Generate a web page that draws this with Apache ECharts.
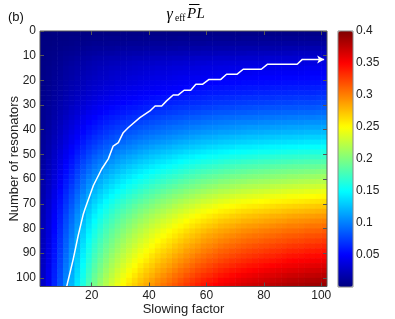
<!DOCTYPE html>
<html><head><meta charset="utf-8">
<script src="https://cdn.jsdelivr.net/npm/echarts@6/dist/echarts.min.js"></script>
<style>html,body{margin:0;padding:0;background:#fff}#c{width:395px;height:319px}</style>
</head><body><div id="c"></div>
<script>
const slowingFactor = [3,5,7,9,11,13,15,17,19,21,23,25,27,29,31,33,35,37,39,41,43,45,47,49,51,53,55,57,59,61,63,65,67,69,71,73,75,77,79,81,83,85,87,89,91,93,95,97,99,101];
const resonators = [1,3,5,7,9,11,13,15,17,19,21,23,25,27,29,31,33,35,37,39,41,43,45,47,49,51,53,55,57,59,61,63,65,67,69,71,73,75,77,79,81,83,85,87,89,91,93,95,97,99,101,103];
// gamma_eff * Pbar * L ; one row per number of resonators, one column per slowing factor
const gammaPL = [
[0,0,.001,.001,.001,.001,.001,.002,.002,.002,.002,.002,.002,.002,.003,.003,.003,.003,.003,.003,.003,.003,.003,.003,.003,.003,.003,.003,.004,.004,.004,.004,.004,.004,.004,.004,.004,.004,.004,.004,.004,.004,.004,.004,.004,.004,.004,.004,.004,.004],
[.001,.001,.001,.002,.002,.003,.003,.003,.004,.004,.004,.005,.005,.005,.005,.005,.005,.006,.006,.006,.006,.006,.006,.006,.007,.007,.007,.007,.007,.007,.007,.007,.007,.007,.007,.008,.008,.008,.008,.008,.008,.008,.008,.008,.008,.008,.008,.008,.008,.008],
[.001,.001,.002,.003,.003,.004,.005,.005,.006,.007,.007,.007,.008,.008,.008,.009,.009,.009,.009,.010,.010,.010,.010,.011,.011,.011,.011,.011,.011,.012,.012,.012,.012,.012,.012,.012,.012,.012,.012,.012,.013,.013,.013,.013,.013,.013,.013,.013,.013,.013],
[.001,.002,.003,.004,.005,.006,.007,.008,.009,.010,.010,.011,.011,.012,.012,.013,.013,.013,.014,.014,.014,.015,.015,.015,.016,.016,.016,.016,.017,.017,.017,.017,.017,.018,.018,.018,.018,.018,.018,.018,.018,.018,.019,.019,.019,.019,.019,.019,.019,.019],
[.002,.003,.004,.006,.007,.008,.009,.011,.012,.013,.014,.015,.015,.016,.017,.017,.018,.018,.019,.019,.020,.020,.021,.021,.021,.022,.022,.022,.023,.023,.023,.024,.024,.024,.024,.024,.025,.025,.025,.025,.025,.025,.025,.025,.026,.026,.026,.026,.026,.026],
[.002,.004,.005,.007,.009,.010,.012,.014,.015,.017,.018,.019,.020,.020,.021,.022,.023,.023,.024,.025,.025,.026,.026,.027,.027,.028,.028,.029,.029,.029,.030,.030,.030,.030,.031,.031,.031,.031,.031,.032,.032,.032,.032,.032,.032,.033,.033,.033,.033,.033],
[.003,.004,.006,.008,.010,.012,.014,.016,.018,.020,.021,.022,.023,.024,.025,.026,.027,.028,.028,.029,.030,.030,.031,.032,.032,.033,.033,.034,.034,.035,.035,.035,.036,.036,.036,.037,.037,.037,.037,.037,.038,.038,.038,.038,.038,.038,.039,.039,.039,.039],
[.003,.005,.007,.009,.012,.014,.016,.018,.020,.022,.024,.025,.026,.027,.028,.029,.030,.031,.032,.033,.034,.034,.035,.036,.036,.037,.037,.038,.039,.039,.039,.040,.040,.041,.041,.041,.042,.042,.042,.042,.042,.043,.043,.043,.043,.043,.044,.044,.044,.044],
[.003,.005,.008,.010,.013,.015,.017,.020,.022,.024,.026,.027,.029,.030,.031,.032,.033,.034,.035,.036,.037,.037,.038,.039,.040,.040,.041,.041,.042,.043,.043,.044,.044,.044,.045,.045,.045,.046,.046,.046,.046,.047,.047,.047,.047,.047,.048,.048,.048,.048],
[.004,.006,.009,.011,.014,.016,.019,.022,.024,.026,.028,.029,.031,.032,.033,.035,.036,.037,.038,.039,.040,.040,.041,.042,.043,.044,.044,.045,.046,.046,.047,.047,.048,.048,.048,.049,.049,.049,.050,.050,.050,.050,.051,.051,.051,.051,.051,.052,.052,.052],
[.004,.006,.009,.012,.015,.018,.020,.023,.026,.028,.030,.032,.033,.035,.036,.037,.038,.040,.041,.042,.043,.044,.044,.045,.046,.047,.048,.048,.049,.050,.050,.051,.051,.052,.052,.053,.053,.053,.053,.054,.054,.054,.055,.055,.055,.055,.055,.056,.056,.056],
[.004,.007,.010,.013,.016,.019,.022,.025,.028,.031,.033,.035,.036,.038,.039,.041,.042,.043,.044,.045,.046,.047,.048,.049,.050,.051,.052,.053,.053,.054,.055,.055,.056,.056,.057,.057,.058,.058,.058,.058,.059,.059,.059,.060,.060,.060,.060,.061,.061,.061],
[.005,.007,.011,.014,.017,.021,.024,.027,.030,.033,.035,.037,.039,.041,.043,.044,.045,.047,.048,.049,.050,.051,.052,.053,.054,.055,.056,.057,.058,.059,.059,.060,.060,.061,.061,.062,.062,.063,.063,.063,.064,.064,.064,.065,.065,.065,.065,.065,.066,.066],
[.005,.008,.012,.015,.019,.023,.026,.030,.033,.036,.039,.041,.043,.045,.046,.048,.049,.051,.052,.054,.055,.056,.057,.058,.059,.060,.061,.062,.063,.064,.065,.065,.066,.066,.067,.068,.068,.068,.069,.069,.069,.070,.070,.070,.071,.071,.071,.071,.072,.072],
[.006,.009,.013,.017,.021,.024,.028,.032,.036,.039,.042,.044,.046,.048,.050,.052,.054,.055,.057,.058,.059,.061,.062,.063,.064,.065,.066,.067,.068,.069,.070,.071,.071,.072,.073,.073,.074,.074,.074,.075,.075,.076,.076,.076,.077,.077,.077,.077,.078,.078],
[.006,.010,.014,.018,.022,.027,.031,.035,.039,.043,.046,.048,.051,.053,.055,.057,.058,.060,.062,.063,.065,.066,.067,.069,.070,.071,.072,.073,.075,.075,.076,.077,.078,.078,.079,.080,.080,.081,.081,.082,.082,.082,.083,.083,.083,.084,.084,.084,.085,.085],
[.007,.010,.015,.020,.024,.029,.033,.038,.043,.046,.049,.052,.055,.057,.059,.061,.063,.065,.067,.068,.070,.071,.073,.074,.076,.077,.078,.079,.081,.082,.083,.084,.084,.085,.086,.086,.087,.087,.088,.088,.089,.089,.090,.090,.090,.091,.091,.091,.092,.092],
[.007,.011,.016,.021,.026,.031,.036,.042,.046,.050,.054,.057,.060,.062,.064,.067,.069,.071,.073,.074,.076,.078,.079,.081,.082,.084,.085,.086,.088,.089,.090,.091,.092,.092,.093,.094,.094,.095,.095,.096,.096,.097,.097,.098,.098,.099,.099,.099,.100,.100],
[.008,.012,.018,.023,.029,.034,.039,.045,.050,.054,.058,.061,.064,.067,.070,.072,.074,.076,.078,.080,.082,.084,.086,.087,.089,.091,.092,.093,.095,.096,.097,.098,.099,.100,.101,.101,.102,.102,.103,.104,.104,.105,.105,.106,.106,.106,.107,.107,.107,.108],
[.008,.013,.019,.025,.031,.036,.042,.048,.054,.058,.062,.066,.069,.072,.075,.077,.080,.082,.084,.086,.088,.090,.092,.094,.095,.097,.099,.100,.102,.103,.104,.105,.106,.107,.108,.109,.110,.110,.111,.111,.112,.112,.113,.114,.114,.114,.115,.115,.115,.116],
[.009,.014,.020,.026,.033,.039,.045,.051,.057,.062,.066,.070,.074,.077,.080,.083,.085,.088,.090,.092,.094,.096,.098,.100,.102,.104,.106,.107,.109,.110,.111,.113,.113,.114,.115,.116,.117,.118,.118,.119,.120,.120,.121,.121,.122,.122,.123,.123,.123,.124],
[.010,.015,.022,.028,.035,.042,.048,.055,.061,.067,.071,.075,.079,.083,.086,.089,.091,.094,.097,.099,.101,.103,.105,.107,.109,.111,.113,.115,.117,.118,.119,.121,.122,.123,.124,.125,.126,.126,.127,.128,.128,.129,.130,.130,.131,.131,.132,.132,.132,.133],
[.010,.016,.023,.030,.037,.044,.052,.059,.066,.071,.076,.081,.084,.088,.091,.095,.098,.101,.103,.106,.108,.110,.112,.115,.117,.119,.121,.123,.125,.126,.127,.129,.130,.131,.132,.133,.134,.135,.135,.136,.137,.138,.138,.139,.139,.140,.141,.141,.141,.142],
[.011,.017,.025,.032,.040,.048,.055,.063,.070,.076,.081,.086,.090,.094,.098,.101,.104,.108,.110,.113,.116,.118,.120,.123,.125,.127,.129,.131,.133,.135,.136,.138,.139,.140,.142,.143,.143,.144,.145,.146,.147,.147,.148,.149,.149,.150,.150,.151,.151,.152],
[.012,.018,.027,.035,.043,.051,.059,.067,.075,.081,.087,.092,.096,.101,.104,.108,.111,.115,.118,.121,.123,.126,.128,.131,.133,.136,.138,.140,.142,.144,.145,.147,.148,.150,.151,.152,.153,.154,.155,.155,.156,.157,.158,.159,.159,.160,.160,.161,.161,.162],
[.012,.019,.028,.037,.045,.054,.063,.071,.079,.087,.092,.098,.102,.107,.111,.115,.118,.122,.125,.128,.131,.134,.136,.139,.142,.144,.146,.149,.151,.153,.154,.156,.157,.159,.160,.161,.162,.163,.164,.165,.166,.167,.168,.168,.169,.169,.170,.171,.171,.172],
[.013,.021,.030,.039,.048,.057,.066,.076,.084,.092,.098,.103,.108,.113,.117,.121,.125,.129,.132,.135,.139,.141,.144,.147,.150,.153,.155,.157,.160,.161,.163,.165,.167,.168,.169,.171,.172,.173,.174,.175,.175,.176,.177,.178,.179,.179,.180,.181,.181,.182],
[.014,.022,.031,.041,.051,.060,.070,.080,.089,.097,.103,.109,.114,.119,.124,.128,.132,.136,.139,.143,.146,.149,.152,.155,.158,.161,.163,.166,.168,.170,.172,.174,.176,.177,.179,.180,.181,.182,.183,.184,.185,.186,.187,.188,.189,.189,.190,.190,.191,.192],
[.015,.023,.033,.043,.053,.063,.074,.084,.093,.102,.108,.115,.120,.125,.130,.135,.139,.143,.147,.150,.154,.157,.160,.163,.166,.169,.172,.175,.177,.179,.181,.183,.185,.186,.188,.189,.191,.192,.193,.194,.195,.196,.197,.198,.198,.199,.200,.200,.201,.202],
[.015,.024,.035,.045,.056,.066,.077,.088,.098,.107,.114,.120,.126,.132,.137,.141,.146,.150,.154,.158,.162,.165,.168,.171,.174,.178,.180,.183,.186,.188,.190,.192,.194,.196,.197,.199,.200,.201,.202,.203,.204,.205,.206,.208,.208,.209,.210,.210,.211,.212],
[.016,.025,.036,.047,.059,.069,.081,.092,.103,.112,.119,.126,.132,.138,.143,.148,.153,.157,.161,.165,.169,.172,.176,.179,.183,.186,.189,.192,.195,.197,.199,.202,.203,.205,.207,.208,.210,.211,.212,.213,.214,.215,.216,.217,.218,.219,.220,.220,.221,.222],
[.017,.026,.038,.049,.061,.073,.084,.096,.107,.117,.124,.132,.138,.144,.149,.155,.159,.164,.168,.173,.177,.180,.184,.187,.191,.194,.197,.200,.203,.206,.208,.211,.212,.214,.216,.218,.219,.220,.221,.222,.224,.225,.226,.227,.228,.229,.230,.230,.231,.232],
[.017,.027,.040,.052,.064,.076,.088,.100,.112,.122,.130,.137,.144,.150,.156,.161,.166,.171,.176,.180,.184,.188,.192,.196,.199,.203,.206,.209,.212,.215,.217,.220,.221,.223,.225,.227,.228,.230,.231,.232,.233,.234,.236,.237,.238,.238,.240,.240,.241,.242],
[.018,.028,.041,.054,.067,.079,.092,.105,.116,.127,.135,.143,.150,.156,.162,.168,.173,.178,.183,.187,.192,.196,.200,.204,.207,.211,.214,.218,.221,.224,.226,.229,.231,.233,.235,.236,.238,.239,.240,.242,.243,.244,.245,.247,.247,.248,.249,.250,.251,.252],
[.019,.030,.043,.056,.069,.082,.095,.109,.121,.132,.140,.149,.156,.163,.169,.175,.180,.185,.190,.195,.200,.204,.208,.212,.216,.220,.223,.226,.230,.232,.235,.238,.240,.242,.244,.246,.247,.249,.250,.251,.253,.254,.255,.256,.257,.258,.259,.260,.261,.262],
[.020,.031,.045,.058,.072,.085,.099,.113,.126,.137,.146,.154,.162,.169,.175,.181,.187,.193,.197,.202,.207,.211,.215,.220,.224,.228,.231,.235,.239,.241,.244,.247,.249,.251,.253,.255,.257,.258,.259,.261,.262,.264,.265,.266,.267,.268,.269,.270,.271,.272],
[.020,.032,.046,.060,.074,.088,.102,.117,.130,.141,.151,.159,.167,.175,.181,.187,.193,.199,.204,.209,.214,.218,.223,.227,.231,.235,.239,.243,.246,.249,.252,.255,.257,.259,.262,.264,.265,.267,.268,.269,.271,.272,.274,.275,.276,.277,.278,.279,.280,.281],
[.021,.033,.048,.062,.077,.091,.106,.120,.134,.146,.155,.164,.173,.180,.187,.193,.199,.205,.211,.216,.221,.225,.230,.234,.239,.243,.247,.251,.254,.257,.260,.263,.265,.268,.270,.272,.274,.275,.277,.278,.280,.281,.282,.284,.285,.286,.287,.288,.289,.290],
[.021,.034,.049,.063,.079,.093,.108,.124,.138,.150,.160,.169,.177,.185,.192,.199,.205,.211,.216,.222,.227,.232,.236,.241,.245,.250,.254,.257,.261,.264,.267,.271,.273,.275,.277,.280,.281,.283,.284,.286,.287,.289,.290,.292,.293,.294,.295,.296,.297,.298],
[.022,.035,.050,.065,.081,.096,.111,.127,.141,.154,.164,.174,.182,.190,.197,.204,.210,.217,.222,.228,.233,.238,.242,.247,.252,.256,.260,.264,.268,.271,.274,.278,.280,.282,.285,.287,.289,.290,.292,.293,.295,.297,.298,.300,.300,.301,.303,.304,.304,.306],
[.023,.035,.051,.067,.083,.098,.114,.130,.145,.158,.168,.178,.187,.195,.202,.209,.216,.222,.228,.234,.239,.244,.249,.254,.258,.263,.267,.271,.275,.279,.282,.285,.287,.290,.292,.295,.296,.298,.300,.301,.303,.304,.306,.307,.308,.309,.311,.311,.312,.314],
[.023,.036,.053,.068,.085,.100,.117,.133,.148,.161,.172,.182,.191,.199,.207,.214,.221,.227,.233,.239,.245,.249,.254,.259,.264,.269,.273,.277,.282,.285,.288,.291,.294,.296,.299,.301,.303,.305,.306,.308,.309,.311,.313,.314,.315,.316,.318,.318,.319,.321],
[.024,.037,.054,.070,.087,.103,.119,.136,.152,.165,.176,.186,.195,.204,.211,.219,.225,.232,.238,.244,.250,.255,.260,.265,.270,.275,.279,.283,.288,.291,.294,.298,.300,.303,.305,.308,.310,.311,.313,.315,.316,.318,.319,.321,.322,.323,.325,.325,.326,.328],
[.024,.038,.055,.071,.088,.105,.122,.139,.155,.169,.180,.190,.199,.208,.216,.223,.230,.237,.243,.249,.255,.260,.265,.271,.276,.281,.285,.289,.294,.297,.300,.304,.307,.309,.312,.314,.316,.318,.320,.321,.323,.325,.326,.328,.329,.330,.332,.332,.333,.335],
[.025,.039,.056,.073,.090,.107,.124,.142,.158,.172,.183,.194,.203,.212,.220,.228,.235,.242,.248,.254,.261,.266,.271,.276,.281,.287,.291,.295,.300,.303,.307,.311,.313,.316,.318,.321,.323,.325,.326,.328,.330,.331,.333,.335,.336,.337,.339,.339,.340,.342],
[.025,.039,.057,.074,.092,.109,.127,.145,.161,.176,.187,.198,.208,.217,.225,.233,.240,.247,.253,.260,.266,.271,.276,.282,.287,.292,.297,.302,.306,.310,.313,.317,.319,.322,.325,.327,.329,.331,.333,.335,.336,.338,.340,.342,.343,.344,.346,.346,.347,.349],
[.026,.040,.058,.076,.094,.111,.130,.148,.164,.179,.191,.202,.212,.221,.229,.237,.245,.252,.258,.265,.271,.277,.282,.288,.293,.298,.303,.308,.312,.316,.319,.323,.326,.329,.331,.334,.336,.338,.340,.341,.343,.345,.347,.349,.350,.351,.352,.353,.354,.356],
[.026,.041,.060,.077,.096,.114,.132,.151,.168,.183,.195,.206,.216,.225,.234,.242,.249,.257,.264,.270,.277,.282,.287,.293,.299,.304,.309,.314,.318,.322,.326,.330,.332,.335,.338,.340,.343,.344,.346,.348,.350,.352,.354,.355,.356,.358,.359,.360,.361,.363],
[.027,.042,.061,.079,.098,.116,.135,.154,.171,.186,.198,.210,.220,.230,.238,.247,.254,.262,.269,.275,.282,.287,.293,.299,.305,.310,.315,.320,.324,.328,.332,.336,.339,.342,.344,.347,.349,.351,.353,.355,.357,.359,.360,.362,.363,.364,.366,.367,.368,.370],
[.027,.043,.062,.080,.100,.118,.137,.156,.174,.190,.202,.214,.224,.234,.243,.251,.259,.267,.274,.280,.287,.293,.299,.305,.310,.316,.321,.326,.331,.334,.338,.342,.345,.348,.351,.354,.356,.358,.360,.362,.363,.365,.367,.369,.370,.371,.373,.374,.375,.377],
[.028,.043,.063,.082,.101,.120,.140,.159,.177,.193,.206,.218,.228,.238,.247,.256,.264,.272,.279,.286,.293,.298,.304,.310,.316,.322,.327,.332,.337,.341,.344,.349,.351,.354,.358,.360,.362,.364,.366,.368,.370,.372,.374,.376,.377,.378,.380,.381,.382,.384],
[.028,.044,.064,.083,.103,.122,.142,.162,.180,.196,.209,.221,.232,.242,.251,.260,.268,.276,.283,.290,.297,.303,.309,.315,.321,.327,.332,.337,.342,.346,.350,.354,.357,.360,.363,.366,.368,.370,.372,.374,.376,.378,.380,.382,.383,.384,.386,.387,.388,.390]
];
// white curve (slowing factor, number of resonators)
const curveS = [11.3,13.6,15.3,17.1,17.7,20.6,23.5,25.8,27.5,29.3,31.0,32.8,36.8,40.3,42.1,44.4,46.1,48.4,50.2,52.2,54.5,56.3,58.6,60.9,65.0,67.0,70.7,72.8,79.1,81.2,91.6,93.4,101];
const curveN = [103.5,92.3,82.9,74.1,72.0,62.6,55.9,51.8,46.6,45.2,41.2,39.1,35.1,32.4,30.4,30.4,28.3,25.9,25.9,24.0,24.0,21.6,21.6,19.6,19.6,17.5,17.5,15.5,15.5,13.5,13.5,11.5,11.5];
const xTicks = [20,40,60,80,100];
const yTicks = [0,10,20,30,40,50,60,70,80,90,100];
const cbTicks = [0.05,0.1,0.15,0.2,0.25,0.3,0.35,0.4];
const cbLabels = ['0.05','0.1','0.15','0.2','0.25','0.3','0.35','0.4'];

const jet = ['#00007F','#0000FF','#007FFF','#00FFFF','#7FFF7F','#FFFF00','#FF7F00','#FF0000','#7F0000'];
const cells = [];
resonators.forEach((n, i) => slowingFactor.forEach((s, j) => cells.push([s, n, gammaPL[i][j]])));
const halfS = (slowingFactor[1] - slowingFactor[0]) / 2;
const halfN = (resonators[1] - resonators[0]) / 2;
const curve = curveS.map((s, i) => i === curveS.length - 1
  ? {value: [s, curveN[i]], symbol: 'arrow', symbolSize: [6, 7], symbolRotate: -90, itemStyle: {color: '#fff'}}
  : [s, curveN[i]]);

const FONT = '"Liberation Sans", Arial, sans-serif';
const frame = '#555';
function renderCell(params, api) {
  const s = api.value(0), n = api.value(1);
  const p0 = api.coord([s - halfS, n - halfN]);
  const p1 = api.coord([s + halfS, n + halfN]);
  const cs = params.coordSys;
  const r = echarts.graphic.clipRectByRect(
    {x: Math.min(p0[0], p1[0]), y: Math.min(p0[1], p1[1]), width: Math.abs(p1[0] - p0[0]) + 0.6, height: Math.abs(p1[1] - p0[1]) + 0.6},
    {x: cs.x, y: cs.y, width: cs.width, height: cs.height});
  return r && {type: 'rect', shape: r, style: {fill: api.visual('color')}};
}
const chart = echarts.init(document.getElementById('c'), null, {renderer: 'canvas'});
const tickStyle = {color: frame, width: 1};
chart.setOption({
  animation: false,
  backgroundColor: '#fff',
  grid: [
    {left: 40, top: 31, width: 287, height: 255.5, show: true, z: 10, borderColor: frame, borderWidth: 1, backgroundColor: 'transparent', containLabel: false, outerBoundsMode: 'none'},
    {left: 338, top: 31, width: 15, height: 256, show: true, z: 10, borderColor: '#888', borderWidth: 1, backgroundColor: 'transparent', containLabel: false, outerBoundsMode: 'none'}
  ],
  xAxis: [
    {type: 'value', gridIndex: 0, min: 2, max: 102, position: 'bottom', z: 10,
     axisLine: {show: false, onZero: false}, splitLine: {show: false},
     axisTick: {show: true, inside: true, length: 4, customValues: xTicks, lineStyle: tickStyle},
     axisLabel: {customValues: xTicks, color: '#222', fontSize: 12, fontFamily: FONT, margin: 3},
     name: 'Slowing factor', nameLocation: 'middle', nameGap: 16, nameMoveOverlap: false,
     nameTextStyle: {fontSize: 13, color: '#222', fontFamily: FONT}},
    {type: 'value', gridIndex: 0, min: 2, max: 102, position: 'top', z: 10,
     axisLine: {show: false, onZero: false}, splitLine: {show: false},
     axisTick: {show: true, inside: true, length: 4, customValues: xTicks, lineStyle: tickStyle},
     axisLabel: {show: false}},
    {type: 'value', gridIndex: 1, min: 0, max: 1, show: false}
  ],
  yAxis: [
    {type: 'value', gridIndex: 0, min: 0, max: 103.5, inverse: true, position: 'left', z: 10,
     axisLine: {show: false, onZero: false}, splitLine: {show: false},
     axisTick: {show: true, inside: true, length: 4, customValues: yTicks, lineStyle: tickStyle},
     axisLabel: {customValues: yTicks, color: '#222', fontSize: 12, fontFamily: FONT, margin: 4},
     name: 'Number of resonators', nameLocation: 'middle', nameGap: 19, nameRotate: 90, nameMoveOverlap: false,
     nameTextStyle: {fontSize: 13, color: '#222', fontFamily: FONT}},
    {type: 'value', gridIndex: 0, min: 0, max: 103.5, inverse: true, position: 'right', z: 10,
     axisLine: {show: false, onZero: false}, splitLine: {show: false},
     axisTick: {show: true, inside: true, length: 4, customValues: yTicks, lineStyle: tickStyle},
     axisLabel: {show: false}},
    {type: 'value', gridIndex: 1, min: 0, max: 0.4, position: 'right', z: 10,
     axisLine: {show: false, onZero: false}, splitLine: {show: false}, axisTick: {show: false},
     axisLabel: {customValues: cbTicks, color: '#222', fontSize: 12, fontFamily: FONT, margin: 3,
       formatter: v => cbLabels[cbTicks.findIndex(t => Math.abs(t - v) < 1e-9)] ?? ''}}
  ],
  visualMap: {
    type: 'continuous', min: 0, max: 0.4, dimension: 2, seriesIndex: 0,
    inRange: {color: jet}, orient: 'vertical', left: 338, top: 31, itemWidth: 15, itemHeight: 256,
    padding: 0, calculable: false, hoverLink: false, z: 4
  },
  graphic: [
    {type: 'text', x: 8, y: 17.5, style: {text: '(b)', font: '13px ' + FONT, fill: '#111', verticalAlign: 'middle'}},
    {type: 'text', x: 166.5, y: 14.4, style: {text: 'γ', font: 'italic 16px "Liberation Serif", serif', fill: '#000', verticalAlign: 'middle'}},
    {type: 'text', x: 175, y: 18.8, style: {text: 'eff', font: '9.5px "Liberation Serif", serif', fill: '#000', verticalAlign: 'middle'}},
    {type: 'text', x: 187, y: 14.4, style: {text: 'P', font: 'italic 15px "Liberation Serif", serif', fill: '#000', verticalAlign: 'middle'}},
    {type: 'text', x: 196.5, y: 14.4, style: {text: 'L', font: 'italic 15px "Liberation Serif", serif', fill: '#000', verticalAlign: 'middle'}},
    {type: 'line', shape: {x1: 189, y1: 4.5, x2: 199.5, y2: 4.5}, style: {stroke: '#000', lineWidth: 1}}
  ],
  series: [
    {type: 'custom', xAxisIndex: 0, yAxisIndex: 0, renderItem: renderCell, data: cells,
     encode: {x: 0, y: 1}, progressive: 0, z: 2, silent: true},
    {type: 'line', xAxisIndex: 0, yAxisIndex: 0, data: curve, symbol: 'none', clip: true,
     lineStyle: {color: '#fff', width: 1.5}, z: 5, silent: true}
  ]
});
</script></body></html>
